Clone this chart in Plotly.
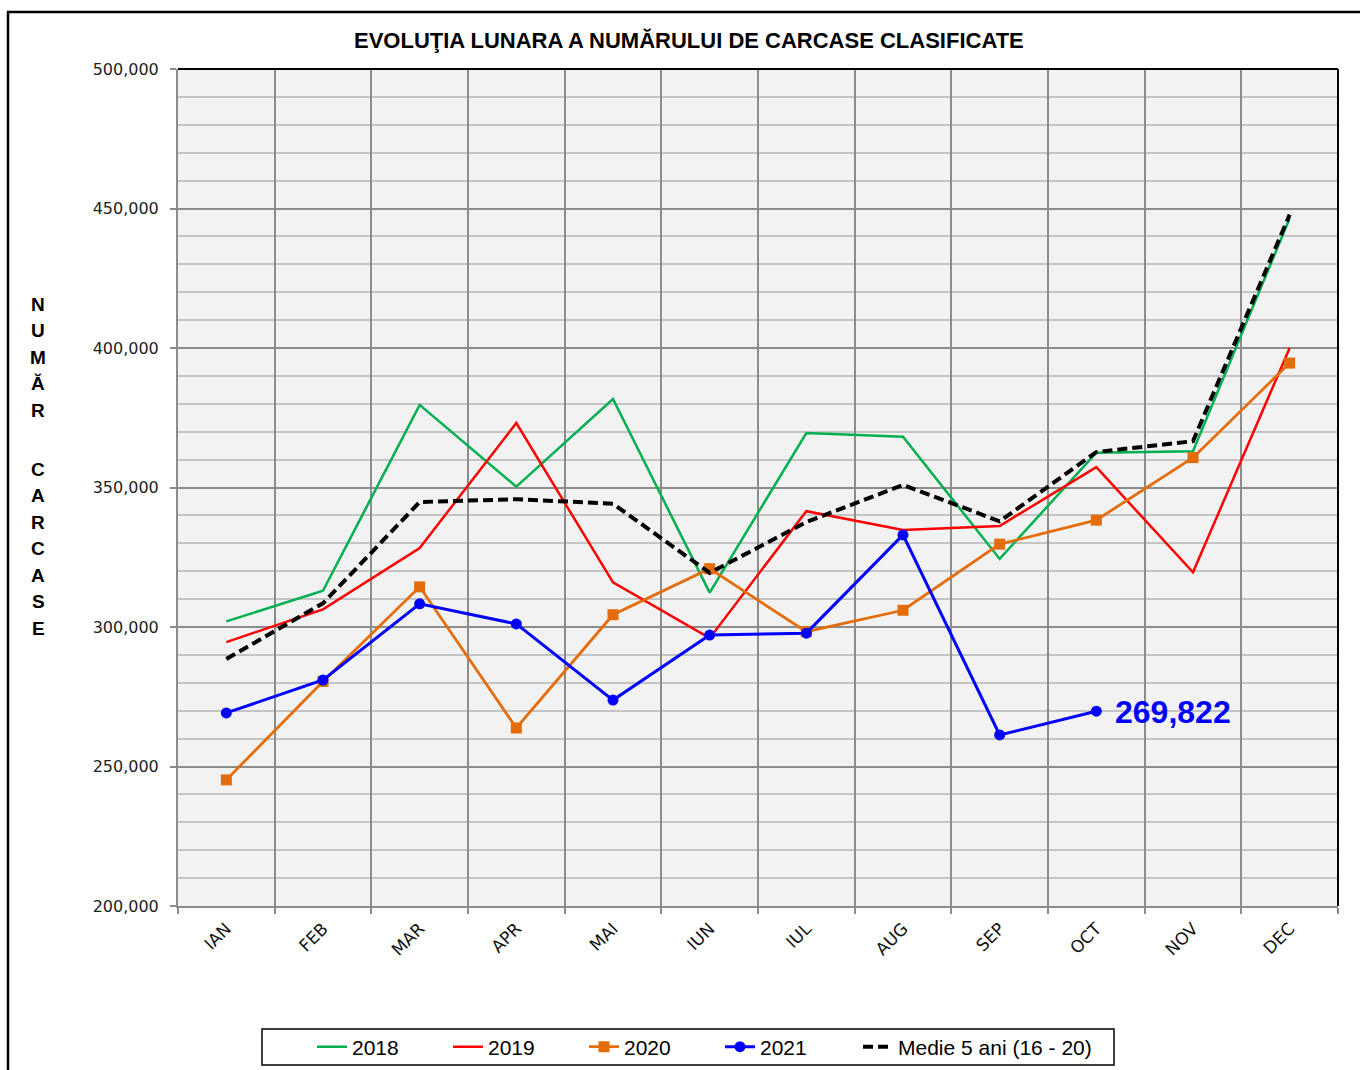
import plotly.graph_objects as go

months = ["IAN", "FEB", "MAR", "APR", "MAI", "IUN", "IUL", "AUG", "SEP", "OCT", "NOV", "DEC"]
v2018 = [302000, 313000, 379600, 350300, 381700, 312300, 369500, 368200, 324400, 362500, 363000, 446500]
v2019 = [294600, 306300, 328300, 373100, 316000, 296000, 341500, 334800, 336200, 357300, 319600, 400000]
v2020 = [245200, 280500, 314400, 263800, 304400, 320900, 298300, 306000, 329700, 338300, 360700, 394600]
v2021 = [269200, 281000, 308300, 301100, 273800, 297100, 297800, 333000, 261300, 269822]
medie = [288500, 308500, 344800, 345800, 344200, 319400, 337600, 350900, 337900, 362700, 366600, 447800]

title_text = "EVOLUŢIA LUNARA A NUMĂRULUI DE CARCASE CLASIFICATE"
ytitle_words = [["N", "U", "M", "Ă", "R"], ["C", "A", "R", "C", "A", "S", "E"]]

FONT = "Liberation Sans, Arial, sans-serif"
TICKFONT = "DejaVu Sans, Verdana, sans-serif"

# plot-area geometry in page pixels (used only to place paper-referenced decorations)
L, R, T, B = 178, 1338, 69, 906
W, H = R - L, B - T


def px(xp):
    return (xp - L) / W


def py(yp):
    return (B - yp) / H


fig = go.Figure()
fig.add_trace(go.Scatter(x=months, y=v2018, name="2018", mode="lines",
                         line=dict(color="#00B050", width=2.5), legend="legend"))
fig.add_trace(go.Scatter(x=months, y=v2019, name="2019", mode="lines",
                         line=dict(color="#FF0000", width=2.5), legend="legend"))
fig.add_trace(go.Scatter(x=months, y=v2020, name="2020", mode="lines+markers",
                         line=dict(color="#E46C0A", width=2.8),
                         marker=dict(symbol="square", size=11, color="#E46C0A"), legend="legend"))
fig.add_trace(go.Scatter(x=months[:len(v2021)], y=v2021, name="2021", mode="lines+markers",
                         line=dict(color="#0000FF", width=3),
                         marker=dict(symbol="circle", size=11, color="#0000FF"), legend="legend"))
fig.add_trace(go.Scatter(x=months, y=medie, name="Medie 5 ani (16 - 20)", mode="lines",
                         line=dict(color="#000000", width=4, dash="10px,5px"), legend="legend2"))

# last 2021 value label
fig.add_annotation(x=months[len(v2021) - 1], y=v2021[-1], text=f"<b>{v2021[-1]:,}</b>",
                   showarrow=False, xanchor="left", yanchor="middle", xshift=17, yshift=-1,
                   font=dict(family=FONT, size=32, color="#0000FF"))

# title
fig.add_annotation(x=px(689), y=py(41), xref="paper", yref="paper",
                   text="<b>" + title_text + "</b>", showarrow=False,
                   xanchor="center", yanchor="middle",
                   font=dict(family=FONT, size=22, color="#000000"))

# vertical y title (stacked letters, two words)
word_tops, step = [304, 469], 26.5
for top_px, word in zip(word_tops, ytitle_words):
    for i, ch in enumerate(word):
        fig.add_annotation(x=px(38), y=py(top_px + i * step), xref="paper", yref="paper",
                           text="<b>" + ch + "</b>", showarrow=False,
                           xanchor="center", yanchor="middle",
                           font=dict(family=FONT, size=19, color="#000000"))

# outer chart border
fig.add_shape(type="rect", xref="paper", yref="paper",
              x0=px(8), x1=px(1380), y0=py(1090), y1=py(12),
              line=dict(color="#000000", width=2.5), layer="above")
# plot area top/right border
fig.add_shape(type="line", xref="paper", yref="paper", x0=0, x1=1, y0=1, y1=1,
              line=dict(color="#000000", width=2), layer="above")
fig.add_shape(type="line", xref="paper", yref="paper", x0=1, x1=1, y0=0, y1=1,
              line=dict(color="#000000", width=2), layer="above")
# legend box
fig.add_shape(type="rect", xref="paper", yref="paper",
              x0=px(262), x1=px(1114), y0=py(1065), y1=py(1029),
              line=dict(color="#000000", width=1.5), fillcolor="rgba(0,0,0,0)", layer="above")

fig.update_layout(
    width=1360, height=1070,
    margin=dict(l=L, r=1360 - R, t=T, b=1070 - B, autoexpand=False),
    paper_bgcolor="#FFFFFF",
    plot_bgcolor="#F2F2F2",
    font=dict(family=FONT, size=15, color="#222222"),
    showlegend=True,
    legend=dict(orientation="h", x=px(312), xanchor="left",
                y=py(1047), yanchor="middle",
                borderwidth=0, bgcolor="rgba(0,0,0,0)",
                font=dict(family=FONT, size=21, color="#000000"),
                entrywidth=91, entrywidthmode="pixels",
                traceorder="normal"),
    legend2=dict(orientation="h", x=px(858), xanchor="left",
                 y=py(1047), yanchor="middle",
                 borderwidth=0, bgcolor="rgba(0,0,0,0)",
                 font=dict(family=FONT, size=21, color="#000000")),
    xaxis=dict(type="category", tickson="boundaries", showgrid=True,
               gridcolor="#8C8C8C", gridwidth=2,
               showline=True, linecolor="#8C8C8C", linewidth=2,
               ticks="outside", ticklen=6, tickcolor="#8C8C8C", tickwidth=2,
               tickangle=-45, tickfont=dict(family=TICKFONT, size=17, color="#111111"),
               ticklabelstandoff=4,
               range=[-0.5, 11.5], zeroline=False),
    yaxis=dict(range=[200000, 500000], dtick=50000, tickformat=",",
               showgrid=True, gridcolor="#8C8C8C", gridwidth=2,
               showline=True, linecolor="#8C8C8C", linewidth=2,
               ticks="outside", ticklen=6, tickcolor="#8C8C8C", tickwidth=2,
               tickfont=dict(family=TICKFONT, size=16, color="#222222"),
               ticklabelstandoff=8,
               minor=dict(dtick=10000, showgrid=True, gridcolor="#C4C4C4", gridwidth=2),
               zeroline=False),
)

fig.write_html("out.html", config={"displayModeBar": False},
               post_script="document.body.style.margin='0px';document.body.style.overflow='hidden';")
